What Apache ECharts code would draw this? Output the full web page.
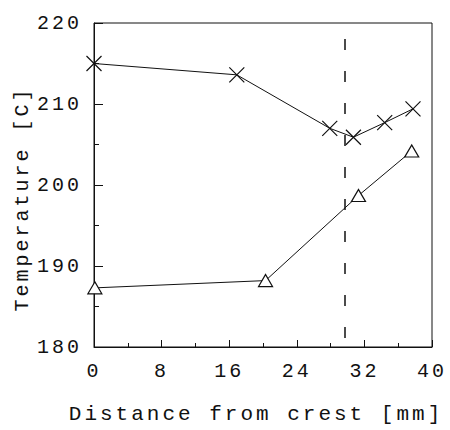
<!DOCTYPE html>
<html>
<head>
<meta charset="utf-8">
<script src="https://cdn.jsdelivr.net/npm/echarts@6/dist/echarts.min.js"></script>
<style>
  html, body { margin: 0; padding: 0; background: #fff; }
  #chart { width: 450px; height: 430px; letter-spacing: 3px; }
</style>
</head>
<body>
<div id="chart"></div>
<script>
// Data
const crossX = [0, 16.9, 27.9, 30.7, 34.4, 37.75];
const crossY = [215.0, 213.6, 207.0, 205.9, 207.7, 209.4];
const triX = [0.1, 20.3, 31.3, 37.6];
const triY = [187.3, 188.2, 198.7, 204.2];
const dashedX = [29.7];
const xTicks = [0, 8, 16, 24, 32, 40];
const yTicks = [180, 190, 200, 210, 220];

const FONT = 'Liberation Mono';
const pairs = (xs, ys) => xs.map((x, i) => [x, ys[i]]);

const chart = echarts.init(document.getElementById('chart'), null, { renderer: 'svg' });
chart.setOption({
  animation: false,
  backgroundColor: '#fff',
  grid: {
    left: 94, right: 18, top: 23, bottom: 76,
    show: true, borderColor: '#111', borderWidth: 1, backgroundColor: 'transparent'
  },
  xAxis: {
    type: 'value',
    min: xTicks[0], max: xTicks[xTicks.length - 1], interval: 8,
    axisLine: { lineStyle: { color: '#111', width: 1 } },
    axisTick: { inside: true, length: 7, lineStyle: { color: '#111' } },
    minorTick: { show: true, splitNumber: 2, length: 4, lineStyle: { color: '#111' } },
    splitLine: { show: false },
    axisLabel: {
      color: '#111', fontFamily: FONT, fontSize: 20, margin: 14,
      formatter: v => xTicks.includes(v) ? String(v) : ''
    },
    name: 'Distance from crest [mm]',
    nameLocation: 'middle', nameGap: 57,
    nameTextStyle: { color: '#111', fontFamily: FONT, fontSize: 21, padding: [0, 14, 0, 0] }
  },
  yAxis: {
    type: 'value',
    min: yTicks[0], max: yTicks[yTicks.length - 1], interval: 10,
    axisLine: { show: true, lineStyle: { color: '#111', width: 1 } },
    axisTick: { show: true, inside: true, length: 9, lineStyle: { color: '#111' } },
    minorTick: { show: true, splitNumber: 2, length: 5, lineStyle: { color: '#111' } },
    splitLine: { show: false },
    axisLabel: {
      color: '#111', fontFamily: FONT, fontSize: 20, margin: 12,
      formatter: v => yTicks.includes(v) ? String(v) : ''
    },
    name: 'Temperature [C]',
    nameLocation: 'middle', nameGap: 62, nameRotate: 90,
    nameTextStyle: { color: '#111', fontFamily: FONT, fontSize: 20, padding: [0, 28, 0, 0] }
  },
  series: [
    {
      type: 'line',
      data: pairs(crossX, crossY),
      symbol: 'path://M0,0L10,10M10,0L0,10',
      symbolSize: 15,
      itemStyle: { color: 'none', borderColor: '#111', borderWidth: 1.2 },
      lineStyle: { color: '#111', width: 1 },
      markLine: {
        silent: true,
        symbol: 'none',
        label: { show: false },
        lineStyle: { color: '#111', type: [11, 21], dashOffset: 23, width: 1.5 },
        data: dashedX.map(x => ({ xAxis: x }))
      }
    },
    {
      type: 'line',
      data: pairs(triX, triY),
      symbol: 'triangle',
      symbolSize: [14, 12],
      itemStyle: { color: '#fff', borderColor: '#111', borderWidth: 1.2 },
      lineStyle: { color: '#111', width: 1 }
    }
  ]
});
</script>
</body>
</html>
